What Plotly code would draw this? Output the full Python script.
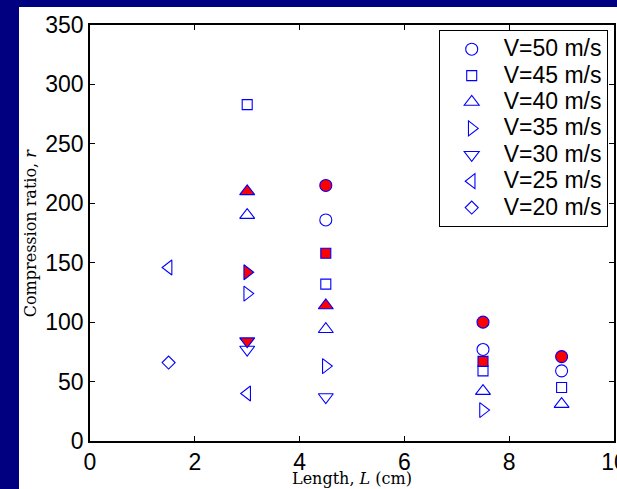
import plotly.graph_objects as go

# ---- data ----
velocity_labels = ["V=50 m/s", "V=45 m/s", "V=40 m/s", "V=35 m/s", "V=30 m/s", "V=25 m/s", "V=20 m/s"]

# open markers
v50_L = [4.5, 7.5, 9.0];        v50_r = [186, 77, 59]
v45_L = [3.0, 4.5, 7.5, 9.0];   v45_r = [283, 132, 59, 45]
v40_L = [3.0, 4.5, 7.5, 9.0];   v40_r = [190, 94, 42, 31]
v35_L = [3.0, 4.5, 7.5];        v35_r = [124, 63, 26]
v30_L = [3.0, 4.5];             v30_r = [77, 37]
v25_L = [1.5, 3.0];             v25_r = [146, 40]
v20_L = [1.5];                  v20_r = [66]

# filled (red) markers
v50f_L = [4.5, 7.5, 9.0];  v50f_r = [215, 100, 71]
v45f_L = [4.5, 7.5];       v45f_r = [158, 67]
v40f_L = [3.0, 4.5];       v40f_r = [210, 114]
v35f_L = [3.0];            v35f_r = [142]
v30f_L = [3.0];            v30f_r = [84]

x_ticks = [0, 2, 4, 6, 8, 10]
y_ticks = [0, 50, 100, 150, 200, 250, 300, 350]

BLUE = "#0000ff"
RED = "#ff0000"
NAVY = "#000080"

open_sets = [
    (v50_L, v50_r, "circle", 12),
    (v45_L, v45_r, "square", 10),
    (v40_L, v40_r, "triangle-up", 13),
    (v35_L, v35_r, "triangle-right", 13),
    (v30_L, v30_r, "triangle-down", 13),
    (v25_L, v25_r, "triangle-left", 13),
    (v20_L, v20_r, "diamond", 10),
]
filled_sets = [
    (v50f_L, v50f_r, "circle", 12),
    (v45f_L, v45f_r, "square", 10),
    (v40f_L, v40f_r, "triangle-up", 13),
    (v35f_L, v35f_r, "triangle-right", 13),
    (v30f_L, v30f_r, "triangle-down", 13),
]

fig = go.Figure()
for (xs, ys, sym, sz), name in zip(open_sets, velocity_labels):
    fig.add_trace(go.Scatter(
        x=xs, y=ys, mode="markers",
        name="<span style='font-size:23px'>" + name + "</span>",
        marker=dict(symbol=sym + "-open", size=sz, color=BLUE, line=dict(width=1.1, color=BLUE)),
    ))
for (xs, ys, sym, sz) in filled_sets:
    fig.add_trace(go.Scatter(
        x=xs, y=ys, mode="markers", showlegend=False,
        marker=dict(symbol=sym, size=sz, color=RED, line=dict(width=1.1, color=BLUE)),
    ))

axis_common = dict(
    showgrid=False, zeroline=False, showline=True, linecolor="black", linewidth=1.5,
    mirror="ticks", ticks="inside", ticklen=5, tickcolor="black", tickwidth=1,
    ticklabeloverflow="allow", automargin=False,
    tickfont=dict(family="Arial, Liberation Sans", size=23, color="black"),
)

fig.update_layout(
    width=617, height=489,
    margin=dict(l=90, r=3, t=25, b=48),
    paper_bgcolor="white", plot_bgcolor="white",
    xaxis=dict(range=[0, 10], tickvals=x_ticks, **axis_common),
    yaxis=dict(range=[0, 350], tickvals=y_ticks, **axis_common),
    legend=dict(
        x=0.988, xanchor="right", y=0.988, yanchor="top",
        bgcolor="white", bordercolor="black", borderwidth=1,
        font=dict(family="Arial, Liberation Sans", size=18, color="black"),
        itemwidth=54,
    ),
    showlegend=True,
    shapes=[
        dict(type="rect", xref="paper", yref="paper",
             x0=-0.3, x1=-0.1355, y0=-0.3, y1=1.3,
             fillcolor=NAVY, line=dict(width=0), layer="below"),
        dict(type="rect", xref="paper", yref="paper",
             x0=-0.3, x1=1.3, y0=1.043, y1=1.3,
             fillcolor=NAVY, line=dict(width=0), layer="below"),
    ],
    annotations=[
        dict(text="Length, <i>L</i> (cm)", xref="paper", yref="paper",
             x=0.5, y=-0.0913, xanchor="center", yanchor="middle", showarrow=False,
             font=dict(family="DejaVu Serif", size=16, color="black")),
        dict(text="Compression ratio, <i>r</i>", xref="paper", yref="paper",
             x=-0.114, y=0.5, xanchor="center", yanchor="middle", textangle=-90, showarrow=False,
             font=dict(family="DejaVu Serif", size=16, color="black")),
    ],
)

fig.write_html("out.html", config={"displayModeBar": False},
               post_script="document.body.style.margin='0';document.body.style.overflow='hidden';")
